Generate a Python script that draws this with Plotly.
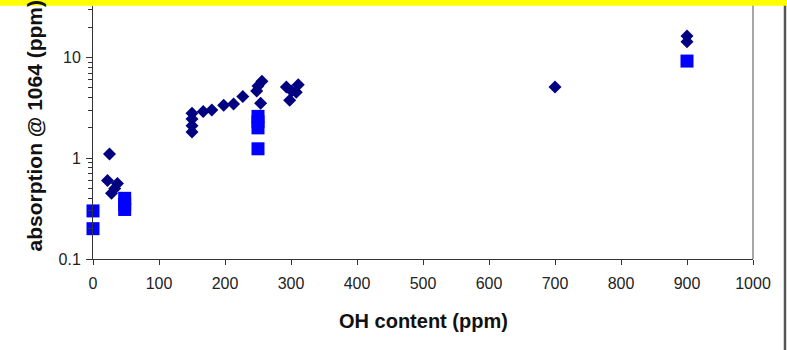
import plotly.graph_objects as go

# Data
diamond_x = [25, 22, 37, 28, 33, 150, 150, 150, 150, 167, 180, 198, 213, 227,
             256, 250, 248, 254, 293, 311, 301, 298, 308, 700, 900, 900]
diamond_y = [1.1, 0.6, 0.56, 0.45, 0.5, 2.8, 2.45, 2.1, 1.82, 2.9, 3.0, 3.35, 3.45, 4.1,
             5.8, 5.2, 4.65, 3.5, 5.1, 5.35, 4.65, 3.75, 4.5, 5.1, 16.3, 14.3]

square_x = [0, 0, 48, 48, 48, 250, 250, 250, 250, 900]
square_y = [0.3, 0.2, 0.4, 0.35, 0.31, 2.6, 2.3, 2.0, 1.24, 9.2]

x_ticks = [0, 100, 200, 300, 400, 500, 600, 700, 800, 900, 1000]
y_ticks = [0.1, 1, 10]
y_tick_text = ["0.1", "1", "10"]

W, H = 787, 350
L, R, T, B = 93, 34, 6, 91
pw, ph = W - L - R, H - T - B

fig = go.Figure()
fig.add_trace(go.Scatter(x=diamond_x, y=diamond_y, mode="markers", cliponaxis=False,
                         marker=dict(symbol="diamond", size=10, color="#000080"),
                         showlegend=False))
fig.add_trace(go.Scatter(x=square_x, y=square_y, mode="markers", cliponaxis=False,
                         marker=dict(symbol="square", size=13, color="#0000FF"),
                         showlegend=False))

FONT = "Liberation Sans, Arial, sans-serif"
tickfont = dict(family=FONT, size=16, color="#222222")

fig.update_layout(
    width=W, height=H,
    margin=dict(l=L, r=R, t=T, b=B, pad=0, autoexpand=False),
    paper_bgcolor="white", plot_bgcolor="white",
    xaxis=dict(range=[0, 1000], tickvals=x_ticks, ticks="outside", ticklen=5,
               tickcolor="#333333", showline=True, linecolor="#333333", linewidth=1,
               showgrid=False, zeroline=False, tickfont=tickfont, automargin=False,
               ticklabelstandoff=5),
    yaxis=dict(type="log", range=[-1, 1.51], tickvals=y_ticks, ticktext=y_tick_text,
               ticks="outside", ticklen=6, tickcolor="#333333", automargin=False,
               showline=True, linecolor="#333333", linewidth=1,
               showgrid=False, zeroline=False, tickfont=tickfont, ticklabelstandoff=2,
               minor=dict(ticks="outside", ticklen=4, tickcolor="#333333",
                          dtick="D1", showgrid=False)),
)

fig.add_annotation(text="<b>OH content (ppm)</b>",
                   xref="paper", yref="paper",
                   x=(424 - L) / pw, y=(H - B - 321) / ph,
                   xanchor="center", yanchor="middle", showarrow=False,
                   font=dict(family=FONT, size=20, color="#111111"))

fig.add_annotation(text="<b>absorption @ 1064 (ppm)</b>", textangle=-90,
                   xref="paper", yref="paper",
                   x=(34 - L) / pw, y=(H - B - 125.5) / ph,
                   xanchor="center", yanchor="middle", showarrow=False,
                   font=dict(family=FONT, size=21, color="#111111"))

# right border of plot area
fig.add_shape(type="line", xref="paper", yref="paper", x0=1, x1=1, y0=0, y1=1 + T / ph,
              line=dict(color="#888888", width=1.5))
# dark line at the right edge of the image
fig.add_shape(type="line", xref="paper", yref="paper",
              x0=(785 - L) / pw, x1=(785 - L) / pw, y0=-B / ph, y1=1 + T / ph,
              line=dict(color="#555555", width=2.5))
# yellow band at the top
fig.add_shape(type="rect", xref="paper", yref="paper",
              x0=-L / pw - 0.02, x1=1 + R / pw + 0.02, y0=(H - B - 5.7) / ph, y1=1 + T / ph + 0.02,
              fillcolor="#FFFF00", line=dict(width=0), layer="above")

fig.write_html("out.html", config={"displayModeBar": False},
               post_script="document.body.style.margin='0';document.body.style.overflow='hidden';")
